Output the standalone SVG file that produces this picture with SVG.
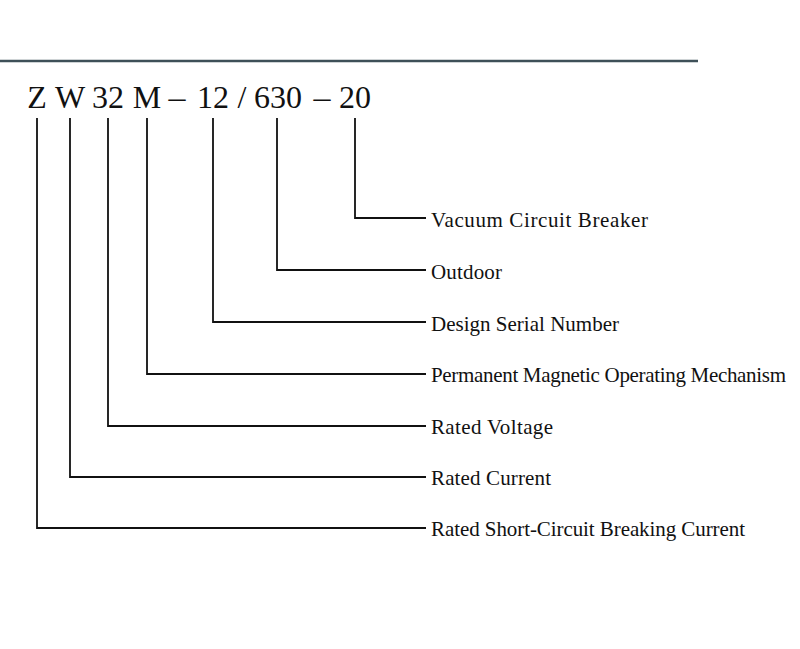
<svg xmlns="http://www.w3.org/2000/svg" width="800" height="649" viewBox="0 0 800 649">
<style>
.code{font-family:"Liberation Serif","Times New Roman",serif;font-size:32px;fill:#111;text-anchor:middle}
.lbl{font-family:"Liberation Serif","Times New Roman",serif;font-size:21px;fill:#111}
.ln{fill:none;stroke:#111;stroke-width:1.8}
</style>
<rect width="800" height="649" fill="#fff"/>
<line x1="0" y1="61" x2="698" y2="61" stroke="#3e5058" stroke-width="2.5"/>
<g id="code">
<text class="code" x="37" y="108">Z</text>
<text class="code" x="70" y="108">W</text>
<text class="code" x="108" y="108">32</text>
<text class="code" x="147" y="108">M</text>
<text class="code" x="177" y="108" textLength="17" lengthAdjust="spacingAndGlyphs">–</text>
<text class="code" x="213" y="108">12</text>
<text class="code" x="242" y="108">/</text>
<text class="code" x="278" y="108">630</text>
<text class="code" x="322" y="108" textLength="17" lengthAdjust="spacingAndGlyphs">–</text>
<text class="code" x="355" y="108">20</text>
</g>
<g id="connectors">
<polyline class="ln" points="355,118 355,218 426,218"/>
<polyline class="ln" points="277,118 277,270 426,270"/>
<polyline class="ln" points="213,118 213,322 426,322"/>
<polyline class="ln" points="147,118 147,374 426,374"/>
<polyline class="ln" points="108,118 108,426 426,426"/>
<polyline class="ln" points="70,118 70,477 426,477"/>
<polyline class="ln" points="37,118 37,528 426,528"/>
</g>
<g id="n1"><text class="lbl" x="431" y="227" textLength="217">Vacuum Circuit Breaker</text></g>
<g id="n2"><text class="lbl" x="431" y="279" textLength="71">Outdoor</text></g>
<g id="n3"><text class="lbl" x="431" y="331" textLength="188">Design Serial Number</text></g>
<g id="n4"><text class="lbl" x="431" y="382" textLength="355">Permanent Magnetic Operating Mechanism</text></g>
<g id="n5"><text class="lbl" x="431" y="434" textLength="122">Rated Voltage</text></g>
<g id="n6"><text class="lbl" x="431" y="485" textLength="120">Rated Current</text></g>
<g id="n7"><text class="lbl" x="431" y="536" textLength="314">Rated Short-Circuit Breaking Current</text></g>
</svg>
